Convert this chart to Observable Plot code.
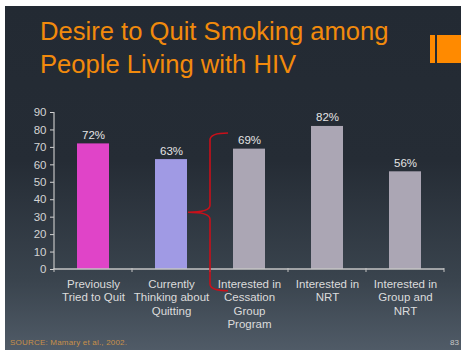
<!DOCTYPE html>
<html>
<head>
<meta charset="utf-8">
<script src="https://cdn.jsdelivr.net/npm/d3@7"></script>
<script src="https://cdn.jsdelivr.net/npm/@observablehq/plot@0.6"></script>
<style>
  html, body { margin: 0; padding: 0; background: #ffffff; }
  #page { position: relative; width: 461px; height: 350px; overflow: hidden; background: #ffffff; font-family: "Liberation Sans", Arial, sans-serif; }
  #slide { position: absolute; left: 5px; top: 6px; width: 456px; height: 344px;
    background: linear-gradient(to bottom, #232a33 0%, #252c35 45%, #3a444e 80%, #505b67 100%); }
  #title { position: absolute; left: 40px; top: 15px; color: #f28a0c; font-size: 25.6px; line-height: 33px; white-space: nowrap; }
  #deco1 { position: absolute; left: 430px; top: 35px; width: 5px; height: 28px; background: #ff8a00; }
  #deco2 { position: absolute; left: 437px; top: 35px; width: 24px; height: 28px; background: #ff8a00; }
  #source { position: absolute; left: 10px; top: 338px; color: #c8904a; font-size: 8px; letter-spacing: 0.2px; white-space: nowrap; }
  #pagenum { position: absolute; left: 450px; top: 338px; color: #c8c8c8; font-size: 8px; }
  #chart { position: absolute; left: 0; top: 0; }
</style>
</head>
<body>
<div id="page">
  <div id="slide"></div>
  <div id="title">Desire to Quit Smoking among<br>People Living with HIV</div>
  <div id="deco1"></div>
  <div id="deco2"></div>
  <div id="chart"></div>
  <div id="source">SOURCE: Mamary et al., 2002.</div>
  <div id="pagenum">83</div>
</div>
<script>
const categories = [
  "Previously\nTried to Quit",
  "Currently\nThinking about\nQuitting",
  "Interested in\nCessation\nGroup\nProgram",
  "Interested in\nNRT",
  "Interested in\nGroup and\nNRT"
];
const values = [72, 63, 69, 82, 56];
const barColors = ["#e044c8", "#a09ae4", "#aba6b4", "#aba6b4", "#aba6b4"];
const yTicks = [0, 10, 20, 30, 40, 50, 60, 70, 80, 90];
// brace annotation (in data units): spans from value 78 down to below the axis, pointing at bar 2
const braceTop = 78;
const braceMid = 32.5;
const braceBottom = -12.5;

const data = categories.map((c, i) => ({cat: c, value: values[i], color: barColors[i], label: values[i] + "%"}));

const axisColor = "#c4c4c4";

function axisLines(index, scales, values_, dims) {
  const g = d3.create("svg:g");
  const x0 = dims.marginLeft, x1 = dims.width - dims.marginRight;
  const y0 = scales.y(0), yTop = scales.y(90);
  g.append("line").attr("x1", x0).attr("x2", x0).attr("y1", yTop).attr("y2", y0)
    .attr("stroke", axisColor).attr("stroke-width", 1.2);
  g.append("line").attr("x1", x0).attr("x2", x1).attr("y1", y0).attr("y2", y0)
    .attr("stroke", axisColor).attr("stroke-width", 1.5);
  const step = scales.x.step ? scales.x.step() : (x1 - x0) / categories.length;
  const bw = scales.x.bandwidth();
  const bounds = categories.map(c => scales.x(c) - (step - bw) / 2);
  bounds.push(x1);
  for (const b of bounds) {
    g.append("line").attr("x1", b).attr("x2", b).attr("y1", y0 - 1).attr("y2", y0 + 3)
      .attr("stroke", axisColor).attr("stroke-width", 1);
  }
  return g.node();
}

function brace(index, scales, values_, dims) {
  const bw = scales.x.bandwidth();
  const step = scales.x.step();
  const x3 = scales.x(categories[2]);
  const v = x3 - (step - bw) / 2;           // band boundary between bar 2 and bar 3
  const tip = scales.x(categories[1]) + bw + 1; // right edge of bar 2
  const right = x3 - 5;
  const yt = scales.y(braceTop), ym = scales.y(braceMid), yb = scales.y(braceBottom);
  const r = 7;
  const p = d3.path();
  p.moveTo(right, yt);
  p.quadraticCurveTo(v, yt, v, yt + r);
  p.lineTo(v, ym - r);
  p.quadraticCurveTo(v, ym, tip, ym);
  p.quadraticCurveTo(v, ym, v, ym + r);
  p.lineTo(v, yb - r);
  p.quadraticCurveTo(v, yb, right, yb);
  const g = d3.create("svg:g");
  g.append("path").attr("d", p.toString()).attr("fill", "none")
    .attr("stroke", "#c8101a").attr("stroke-width", 1.6);
  return g.node();
}

const chart = Plot.plot({
  width: 461,
  height: 350,
  marginLeft: 54,
  marginRight: 17,
  marginTop: 112,
  marginBottom: 81,
  style: {background: "transparent", color: "#dcdcdc", fontFamily: "'Liberation Sans', Arial, sans-serif", fontSize: "11px", overflow: "visible"},
  x: {domain: categories, paddingInner: 0.59, paddingOuter: 0.295, label: null},
  y: {domain: [0, 90], label: null},
  marks: [
    Plot.barY(data, {x: "cat", y: "value", fill: "color"}),
    Plot.text(data, {x: "cat", y: "value", text: "label", dy: -5, lineAnchor: "bottom", fill: "#e4e4e4", fontSize: 11.5}),
    Plot.axisY({ticks: yTicks, tickSize: 4, tickPadding: 4, color: "#d4d4d4", fontSize: 11.5, label: null}),
    Plot.axisX({tickSize: 0, tickPadding: 9, lineHeight: 1.16, color: "#dcdcdc", fontSize: 11.5, label: null}),
    axisLines,
    brace
  ]
});
document.getElementById("chart").appendChild(chart);
</script>
</body>
</html>
